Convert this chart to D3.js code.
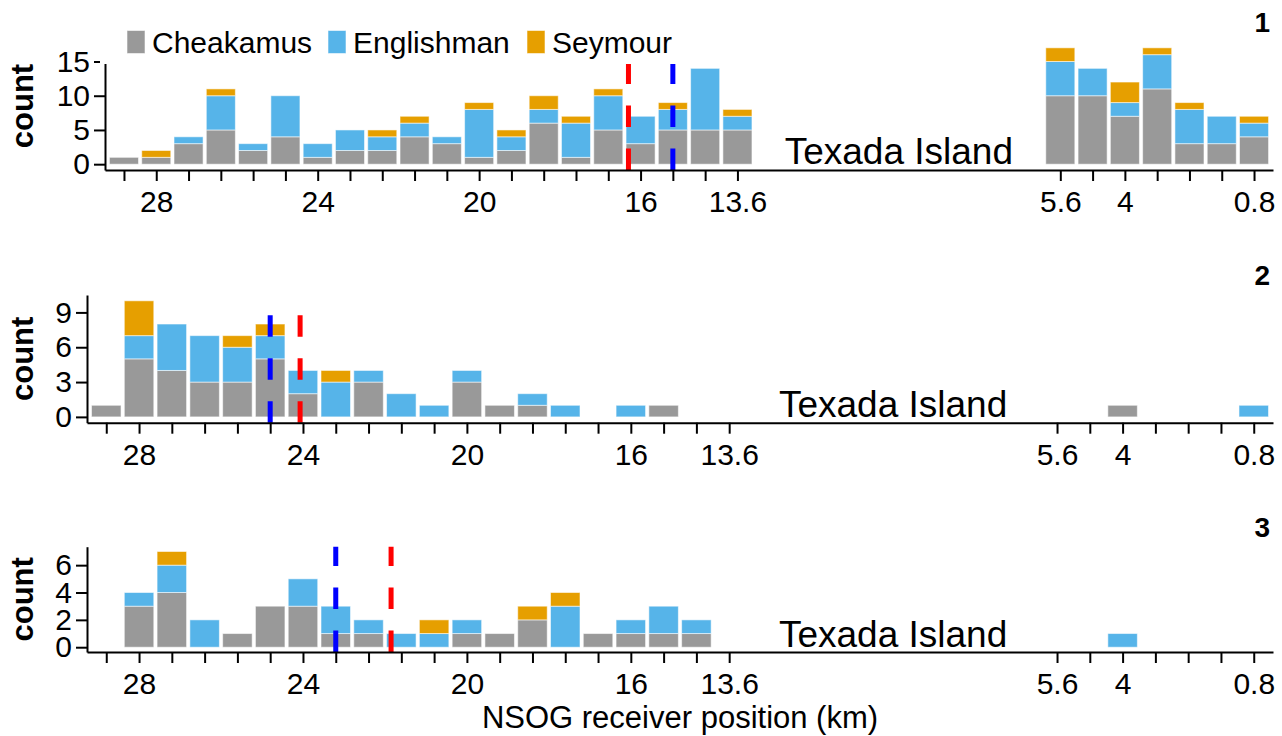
<!DOCTYPE html>
<html>
<head>
<style>
  body { margin: 0; background: #fff; }
  svg { font-family: "Liberation Sans", Arial, sans-serif; }
  .axis path, .axis line { stroke: #000; stroke-width: 2px; }
  .axis text { font-family: "Liberation Sans", Arial, sans-serif; font-size: 30px; fill: #000; }
  .bar { stroke: #fff; stroke-opacity: 0.55; stroke-width: 1px; }
</style>
</head>
<body>
<script src="https://cdn.jsdelivr.net/npm/d3@7"></script>
<script>
// receiver positions (km), one bin per receiver
const positions = [28.8, 28.0, 27.2, 26.4, 25.6, 24.8, 24.0, 23.2, 22.4, 21.6,
                   20.8, 20.0, 19.2, 18.4, 17.6, 16.8, 16.0, 15.2, 14.4, 13.6,
                   5.6, 4.8, 4.0, 3.2, 2.4, 1.6, 0.8];

const tickLabels = [28, 24, 20, 16, 13.6, 5.6, 4, 0.8];
const populations = ["Cheakamus", "Englishman", "Seymour"];
const colors = ["#999999", "#56B4E9", "#E69F00"];

// panel 1 counts
const cheakamus1  = [1, 1, 3, 5, 2, 4, 1, 2, 2, 4, 3, 1, 2, 6, 1, 5, 3, 5, 5, 5, 10, 10, 7, 11, 3, 3, 4];
const englishman1 = [0, 0, 1, 5, 1, 6, 2, 3, 2, 2, 1, 7, 2, 2, 5, 5, 4, 3, 9, 2, 5, 4, 2, 5, 5, 4, 2];
const seymour1    = [0, 1, 0, 1, 0, 0, 0, 0, 1, 1, 0, 1, 1, 2, 1, 1, 0, 1, 0, 1, 2, 0, 3, 1, 1, 0, 1];

// panel 2 counts
const cheakamus2  = [1, 5, 4, 3, 3, 5, 2, 0, 3, 0, 0, 3, 1, 1, 0, 0, 0, 1, 0, 0, 0, 0, 1, 0, 0, 0, 0];
const englishman2 = [0, 2, 4, 4, 3, 2, 2, 3, 1, 2, 1, 1, 0, 1, 1, 0, 1, 0, 0, 0, 0, 0, 0, 0, 0, 0, 1];
const seymour2    = [0, 3, 0, 0, 1, 1, 0, 1, 0, 0, 0, 0, 0, 0, 0, 0, 0, 0, 0, 0, 0, 0, 0, 0, 0, 0, 0];

// panel 3 counts
const cheakamus3  = [0, 3, 4, 0, 1, 3, 3, 1, 1, 0, 0, 1, 1, 2, 0, 1, 1, 1, 1, 0, 0, 0, 0, 0, 0, 0, 0];
const englishman3 = [0, 1, 2, 2, 0, 0, 2, 2, 1, 1, 1, 1, 0, 0, 3, 0, 1, 2, 1, 0, 0, 0, 1, 0, 0, 0, 0];
const seymour3    = [0, 0, 1, 0, 0, 0, 0, 0, 0, 0, 1, 0, 0, 1, 1, 0, 0, 0, 0, 0, 0, 0, 0, 0, 0, 0, 0];

// mean positions (dashed lines)
const redLines  = [16.3, 24.07, 21.85];
const blueLines = [15.2, 24.8, 23.2];

const yTicks = [[0, 5, 10, 15], [0, 3, 6, 9], [0, 2, 4, 6]];
const yMax = [17, 10, 7];

const panels = [
  { id: "1", counts: [cheakamus1, englishman1, seymour1], left: 105, top: 42, bottom: 170 },
  { id: "2", counts: [cheakamus2, englishman2, seymour2], left: 87, top: 295, bottom: 422.7 },
  { id: "3", counts: [cheakamus3, englishman3, seymour3], left: 87, top: 546.7, bottom: 652 }
];

const width = 1282, height = 736, right = 1273;
const binWidth = 0.72;

const svg = d3.select("body").append("svg")
  .attr("width", width).attr("height", height);

panels.forEach((p, pi) => {
  const x = d3.scaleLinear().domain([29.27, 0.33]).range([p.left, right]);
  const top = yMax[pi] * 1.05, bot = -yMax[pi] * 0.05;
  const y = d3.scaleLinear().domain([bot, top]).range([p.bottom, p.top]);

  const rows = positions.map((pos, i) => ({
    pos: pos,
    Cheakamus: p.counts[0][i],
    Englishman: p.counts[1][i],
    Seymour: p.counts[2][i]
  }));
  const series = d3.stack().keys(populations)(rows);

  const g = svg.append("g");

  g.selectAll("g.layer")
    .data(series)
    .join("g")
    .attr("class", "layer")
    .attr("fill", (d, i) => colors[i])
    .selectAll("rect")
    .data(d => d.filter(v => v[1] > v[0]))
    .join("rect")
    .attr("class", "bar")
    .attr("x", d => x(d.data.pos + binWidth / 2))
    .attr("width", d => x(d.data.pos - binWidth / 2) - x(d.data.pos + binWidth / 2))
    .attr("y", d => y(d[1]))
    .attr("height", d => y(d[0]) - y(d[1]));

  // dashed mean lines, drawn bottom to top
  [[redLines[pi], "#ff0000"], [blueLines[pi], "#0000ff"]].forEach(([v, c]) => {
    g.append("line")
      .attr("x1", x(v)).attr("x2", x(v))
      .attr("y1", p.bottom).attr("y2", p.top)
      .attr("stroke", c)
      .attr("stroke-width", 5)
      .attr("stroke-dasharray", "21.5,21.5");
  });

  g.append("text")
    .attr("x", x(9.6)).attr("y", y(0))
    .attr("text-anchor", "middle")
    .style("font-size", "37px")
    .text("Texada Island");

  const xAxis = d3.axisBottom(x)
    .tickValues(positions)
    .tickSize(11)
    .tickSizeOuter(0)
    .tickPadding(7)
    .tickFormat(d => tickLabels.includes(d) ? d3.format("~g")(d) : "");

  g.append("g")
    .attr("class", "axis")
    .attr("transform", `translate(0,${p.bottom})`)
    .call(xAxis)
    .call(s => s.selectAll("text").attr("dy", "0.8em"));

  const yAxis = d3.axisLeft(y)
    .tickValues(yTicks[pi])
    .tickSize(11)
    .tickSizeOuter(0)
    .tickPadding(4);

  g.append("g")
    .attr("class", "axis")
    .attr("transform", `translate(${p.left},0)`)
    .call(yAxis);

  g.append("text")
    .attr("transform", `translate(33,${(p.top + p.bottom) / 2}) rotate(-90)`)
    .attr("text-anchor", "middle")
    .style("font-size", "31px")
    .style("font-weight", "bold")
    .text("count");

  g.append("text")
    .attr("x", 1270).attr("y", p.top - 10)
    .attr("text-anchor", "end")
    .style("font-size", "28px")
    .style("font-weight", "bold")
    .text(p.id);
});

// legend (sits inside panel 1, white background)
const legend = svg.append("g");
legend.append("rect")
  .attr("x", 100).attr("y", 20).attr("width", 590).attr("height", 44)
  .attr("fill", "#fff");
const legendX = [127, 328, 527];
populations.forEach((name, i) => {
  legend.append("rect")
    .attr("class", "bar")
    .attr("x", legendX[i]).attr("y", 30.5)
    .attr("width", 18).attr("height", 23)
    .attr("fill", colors[i]);
  legend.append("text")
    .attr("x", legendX[i] + 25).attr("y", 53)
    .style("font-size", "30px")
    .text(name);
});

svg.append("text")
  .attr("x", 680).attr("y", 728)
  .attr("text-anchor", "middle")
  .style("font-size", "31px")
  .text("NSOG receiver position (km)");
</script>
</body>
</html>
